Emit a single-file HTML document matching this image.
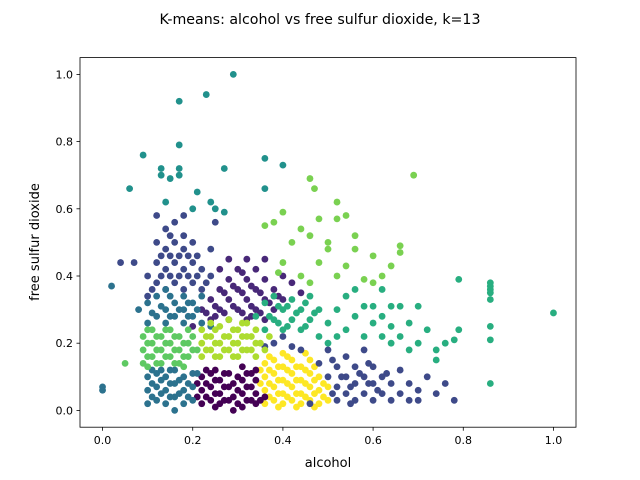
<!DOCTYPE html>
<html><head><meta charset="utf-8"><style>
html,body{margin:0;padding:0;background:#fff;}
svg{display:block;font-family:"DejaVu Sans","Liberation Sans",sans-serif;}
</style></head><body>
<svg id="chart" width="640" height="480" viewBox="0 0 640 480">
<rect width="640" height="480" fill="#fff"/>
<text x="320" y="24" text-anchor="middle" font-size="14.2">K-means: alcohol vs free sulfur dioxide, k=13</text>
<g id="points"></g>
<rect x="80" y="57.6" width="496" height="369.6" fill="none" stroke="#000" stroke-width="0.8"/>
<g id="xticks"></g>
<g id="yticks"></g>
<text x="328" y="467" text-anchor="middle" font-size="13">alcohol</text>
<text x="0" y="0" transform="translate(39,242) rotate(-90)" text-anchor="middle" font-size="13">free sulfur dioxide</text>
</svg>
<script>
const xTicks=[0.0,0.2,0.4,0.6,0.8,1.0];
const yTicks=[0.0,0.2,0.4,0.6,0.8,1.0];
const clusterColors=["#fde725","#440154","#482878","#3e4a89","#2c728e","#21918c","#28ae80","#5ec962","#addc30","#7ad151"];
const c0=[[.36,.02],[.36,.06],[.36,.10],[.36,.14],[.38,.03],[.38,.07],[.38,.11],[.38,.15],[.40,.02],[.40,.05],[.40,.09],[.40,.13],[.40,.17],[.42,.03],[.42,.07],[.42,.11],[.42,.15],[.44,.02],[.44,.05],[.44,.09],[.44,.13],[.46,.03],[.46,.07],[.46,.11],[.46,.15],[.48,.02],[.48,.06],[.48,.10],[.50,.03],[.50,.07],[.35,.08],[.37,.16],[.45,.17],
[.37,.04],[.37,.08],[.37,.12],[.39,.01],[.39,.05],[.39,.09],[.39,.13],[.41,.04],[.41,.08],[.41,.12],[.41,.16],[.43,.01],[.43,.05],[.43,.09],[.43,.13],[.45,.04],[.45,.08],[.45,.12],[.47,.01],[.47,.05],[.47,.09],[.47,.13],[.49,.04],[.49,.08],[.35,.12]];
const c1=[[.22,.02],[.22,.06],[.22,.10],[.24,.03],[.24,.07],[.24,.11],[.26,.02],[.26,.05],[.26,.09],[.28,.03],[.28,.07],[.28,.11],[.29,0],[.30,.02],[.30,.06],[.30,.10],[.32,.03],[.32,.07],[.32,.11],[.34,.02],[.34,.05],[.34,.09],[.34,.12],[.36,.04],[.25,.12],[.31,.13],[.21,.08],
[.23,.04],[.23,.08],[.25,.01],[.25,.05],[.25,.09],[.27,.03],[.27,.07],[.27,.11],[.29,.04],[.29,.08],[.31,.01],[.31,.05],[.31,.09],[.33,.03],[.33,.07],[.33,.11],[.35,.03],[.21,.04],[.23,.12]];
const c2=[[.22,.30],[.24,.27],[.24,.33],[.26,.30],[.26,.36],[.28,.27],[.28,.33],[.28,.39],[.30,.30],[.30,.36],[.30,.42],[.32,.27],[.32,.33],[.32,.39],[.32,.45],[.34,.30],[.34,.36],[.34,.42],[.36,.27],[.36,.33],[.36,.39],[.38,.30],[.38,.36],[.40,.33],[.40,.40],[.42,.38],[.44,.35],[.26,.42],[.28,.45],[.36,.45],[.20,.25],
[.23,.29],[.25,.31],[.27,.29],[.27,.35],[.29,.31],[.29,.37],[.31,.29],[.31,.35],[.31,.41],[.33,.31],[.33,.37],[.35,.29],[.35,.35],[.37,.32],[.39,.34],[.33,.28],[.25,.28]];
const c3=[[.10,.40],[.12,.38],[.12,.44],[.12,.50],[.14,.36],[.14,.42],[.14,.48],[.14,.54],[.16,.38],[.16,.44],[.16,.50],[.16,.56],[.18,.36],[.18,.42],[.18,.48],[.18,.52],[.20,.38],[.20,.44],[.20,.50],[.22,.36],[.22,.42],[.24,.40],[.24,.48],[.25,.56],[.12,.58],[.18,.58],[.07,.44],[.04,.44],[.10,.34],
[.13,.40],[.13,.46],[.15,.40],[.15,.46],[.15,.52],[.17,.40],[.17,.46],[.19,.40],[.19,.46],[.21,.40],[.23,.38],[.11,.36],[.21,.46],
[.46,.02],[.48,.14],[.50,.10],[.50,.18],[.52,.03],[.52,.07],[.52,.13],[.54,.05],[.54,.10],[.54,.16],[.56,.03],[.56,.08],[.56,.13],[.58,.05],[.58,.10],[.58,.18],[.60,.03],[.60,.08],[.60,.13],[.62,.05],[.62,.10],[.64,.03],[.64,.08],[.66,.05],[.66,.12],[.68,.03],[.68,.08],[.70,.06],[.72,.10],[.74,.05],[.76,.08],[.78,.03],[.70,.03],[.38,.20],[.40,.22],[.42,.19],[.36,.19],[.44,.18],
[.51,.05],[.53,.10],[.55,.07],[.57,.11],[.59,.08],[.61,.06],[.63,.11],[.51,.15],[.55,.02],[.59,.14]];
const c4=[[.10,.02],[.10,.06],[.10,.10],[.12,.03],[.12,.07],[.12,.11],[.14,.02],[.14,.06],[.14,.10],[.16,.0],[.16,.04],[.16,.08],[.16,.12],[.18,.02],[.18,.06],[.18,.10],[.20,.03],[.20,.07],[.20,.11],[.0,.07],[.0,.06],[.10,.26],[.10,.32],[.12,.28],[.12,.34],[.14,.26],[.14,.30],[.14,.36],[.16,.28],[.16,.32],[.18,.26],[.18,.30],[.18,.34],[.20,.28],[.20,.32],[.22,.26],[.22,.34],[.08,.30],[.02,.37],[.24,.25],
[.11,.04],[.11,.08],[.13,.05],[.13,.09],[.15,.04],[.15,.08],[.15,.12],[.17,.05],[.17,.09],[.19,.04],[.19,.08],[.21,.11],[.11,.29],[.13,.31],[.15,.28],[.15,.34],[.17,.30],[.19,.28],[.19,.32],[.21,.30],[.11,.12],[.13,.12]];
const c5=[[.29,1.0],[.23,.94],[.17,.92],[.17,.79],[.09,.76],[.06,.66],[.13,.72],[.17,.72],[.15,.69],[.13,.70],[.17,.70],[.21,.65],[.27,.72],[.36,.75],[.40,.73],[.36,.66],[.24,.62],[.14,.62],[.20,.60],[.25,.60],[.27,.59]];
const c6=[[.34,.28],[.36,.24],[.36,.32],[.38,.27],[.38,.34],[.40,.24],[.40,.30],[.42,.27],[.42,.33],[.44,.24],[.44,.30],[.46,.27],[.46,.34],[.48,.22],[.48,.30],[.50,.26],[.52,.22],[.52,.30],[.54,.24],[.54,.34],[.56,.28],[.58,.22],[.58,.31],[.60,.26],[.60,.31],[.62,.22],[.62,.28],[.64,.20],[.64,.25],[.66,.22],[.66,.31],[.68,.18],[.68,.26],[.70,.20],[.70,.31],[.72,.24],[.74,.15],[.74,.18],[.76,.20],[.78,.21],[.79,.24],[.79,.39],[.86,.37],[.86,.38],[.86,.36],[.86,.35],[.86,.33],[.86,.25],[.86,.21],[.86,.08],[1.0,.29],[.50,.20],[.56,.36],[.62,.36],[.64,.31],
[.37,.28],[.39,.26],[.41,.25],[.41,.31],[.43,.29],[.45,.25],[.47,.29],[.39,.31],[.45,.32]];
const c7=[[.09,.14],[.09,.18],[.09,.22],[.11,.16],[.11,.20],[.11,.24],[.13,.14],[.13,.18],[.13,.22],[.15,.16],[.15,.20],[.15,.24],[.17,.14],[.17,.18],[.17,.22],[.19,.16],[.19,.20],[.19,.24],[.21,.18],[.05,.14],[.10,.13],[.18,.13],
[.10,.16],[.10,.20],[.12,.18],[.12,.22],[.14,.16],[.14,.20],[.16,.18],[.16,.22],[.18,.16],[.18,.20],[.20,.18],[.20,.22],[.12,.14],[.16,.14],[.14,.24],[.10,.24]];
const c8=[[.22,.16],[.22,.20],[.22,.24],[.24,.18],[.24,.22],[.26,.16],[.26,.20],[.26,.25],[.28,.18],[.28,.22],[.28,.27],[.30,.16],[.30,.20],[.30,.24],[.32,.18],[.32,.22],[.32,.26],[.34,.16],[.34,.20],[.34,.24],[.36,.18],[.37,.22],[.24,.26],
[.23,.18],[.23,.22],[.25,.16],[.25,.20],[.25,.24],[.27,.18],[.27,.22],[.29,.16],[.29,.20],[.29,.24],[.31,.18],[.31,.22],[.33,.18],[.33,.22],[.35,.20],[.31,.26]];
const c9=[[.46,.69],[.47,.66],[.69,.70],[.52,.62],[.40,.59],[.38,.56],[.36,.55],[.44,.54],[.46,.52],[.50,.50],[.52,.57],[.54,.58],[.56,.48],[.60,.46],[.62,.40],[.66,.49],[.66,.47],[.64,.43],[.58,.39],[.52,.40],[.48,.44],[.42,.50],[.40,.44],[.44,.40],[.39,.41],[.56,.52],[.50,.48],[.46,.38],[.54,.43],[.48,.57],[.60,.38]];
const clusters=[c0,c1,c2,c3,c4,c5,c6,c7,c8,c9];

const NS="http://www.w3.org/2000/svg";
const L=80,R=576,T=57.6,B=427.2,xmin=-0.05,xmax=1.05,ymin=-0.05,ymax=1.05;
function sx(v){return L+(v-xmin)/(xmax-xmin)*(R-L);}
function sy(v){return B-(v-ymin)/(ymax-ymin)*(B-T);}
const gp=document.getElementById('points');
clusters.forEach((pts,ci)=>{
  pts.forEach(p=>{
    const c=document.createElementNS(NS,'circle');
    c.setAttribute('cx',sx(p[0]));c.setAttribute('cy',sy(p[1]));
    c.setAttribute('r',3.4);c.setAttribute('fill',clusterColors[ci]);
    
    
    gp.appendChild(c);
  });
});
const gx=document.getElementById('xticks');
xTicks.forEach(v=>{
  const x=sx(v);
  const l=document.createElementNS(NS,'line');
  l.setAttribute('x1',x);l.setAttribute('x2',x);l.setAttribute('y1',B);l.setAttribute('y2',B+3.5);l.setAttribute('stroke','#000');l.setAttribute('stroke-width','0.8');
  
  
  gx.appendChild(l);
  const t=document.createElementNS(NS,'text');
  t.setAttribute('x',x);t.setAttribute('y',B+17);t.setAttribute('text-anchor','middle');t.setAttribute('font-size','11');
  t.textContent=v.toFixed(1);
  
  
  gx.appendChild(t);
});
const gy=document.getElementById('yticks');
yTicks.forEach(v=>{
  const y=sy(v);
  const l=document.createElementNS(NS,'line');
  l.setAttribute('x1',L-3.5);l.setAttribute('x2',L);l.setAttribute('y1',y);l.setAttribute('y2',y);l.setAttribute('stroke','#000');l.setAttribute('stroke-width','0.8');
  
  
  gy.appendChild(l);
  const t=document.createElementNS(NS,'text');
  t.setAttribute('x',L-7);t.setAttribute('y',y+4);t.setAttribute('text-anchor','end');t.setAttribute('font-size','11');
  t.textContent=v.toFixed(1);
  
  
  gy.appendChild(t);
});
</script>
</body></html>
